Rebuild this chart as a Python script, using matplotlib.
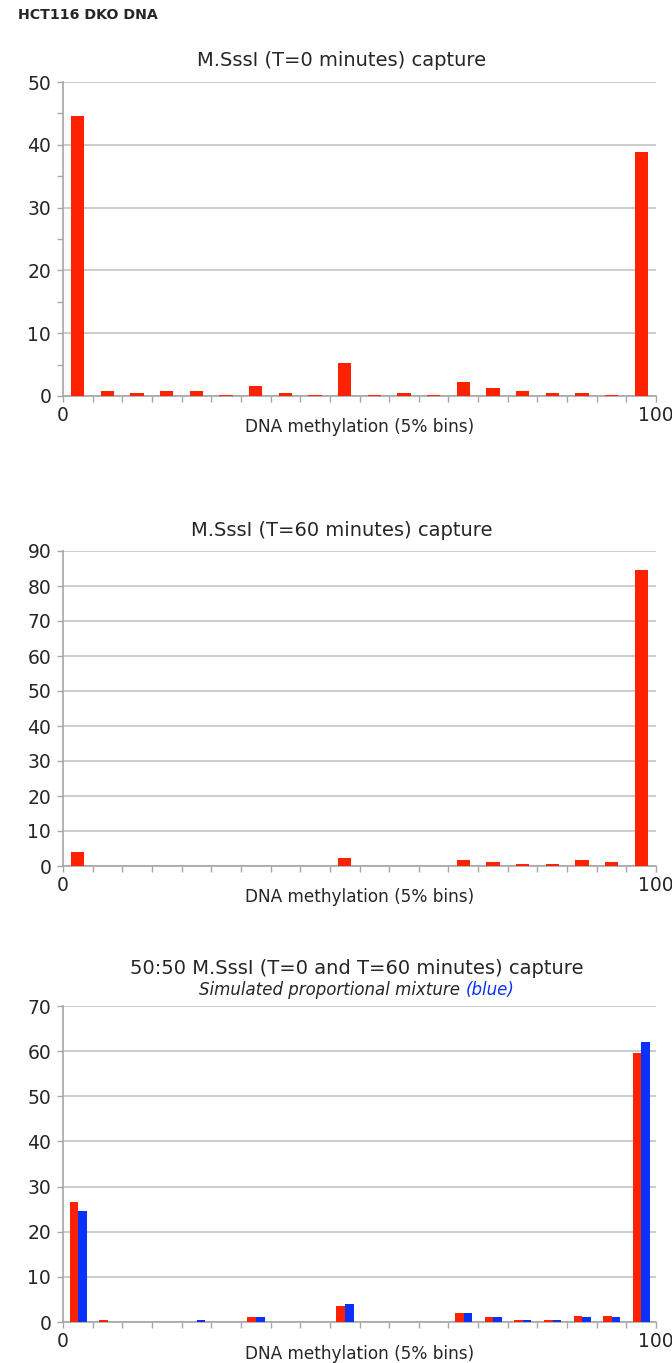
import matplotlib
matplotlib.use("Agg")
import matplotlib.pyplot as plt
import numpy as np

plt.rcParams['font.family'] = ['DejaVu Sans']

# ---- data (percent of reads per 5% methylation bin) ----
bins = list(range(20))
t0_values = [44.6, 0.73, 0.47, 0.73, 0.73, 0.1, 1.6, 0.47, 0.1, 5.2,
             0.1, 0.47, 0.1, 2.25, 1.3, 0.73, 0.47, 0.47, 0.1, 38.8]
t60_values = [3.9, 0.1, 0.1, 0.1, 0.1, 0.1, 0.1, 0.1, 0.1, 2.3,
              0.1, 0.1, 0.1, 1.8, 1.25, 0.67, 0.67, 1.8, 1.25, 84.6]
mix_observed = [26.6, 0.5, 0.05, 0.05, 0.05, 0.05, 1.0, 0.05, 0.05, 3.5,
                0.05, 0.05, 0.05, 1.9, 1.0, 0.55, 0.55, 1.4, 1.4, 59.6]
mix_simulated = [24.6, 0.05, 0.05, 0.05, 0.5, 0.05, 1.0, 0.05, 0.05, 4.0,
                 0.05, 0.05, 0.05, 1.9, 1.0, 0.55, 0.55, 1.0, 1.0, 62.1]
x_tick_labels = ["0", "100"]

suptitle = "HCT116 DKO DNA"
titles = ["M.SssI (T=0 minutes) capture", "M.SssI (T=60 minutes) capture"]
title3_line1 = "50:50 M.SssI (T=0 and T=60 minutes) capture"
title3_line2a = "Simulated proportional mixture "
title3_line2b = "(blue)"
xlabel = "DNA methylation (5% bins)"

RED = "#FF2200"
BLUE = "#0A32FF"
GRID = "#C4C4C4"
AXC = "#A6A6A6"
TXT = "#262626"

W, H = 672, 1363
fig = plt.figure(figsize=(W / 100, H / 100), dpi=100)


def px_axes(left, top, right, bottom):
    return fig.add_axes([left / W, 1 - bottom / H, (right - left) / W, (bottom - top) / H])


def style(ax, ymax, ystep, minor=None):
    ax.set_xlim(0, 20)
    ax.set_ylim(0, ymax)
    ax.set_yticks(np.arange(0, ymax + 0.1, ystep))
    if minor:
        ax.set_yticks(np.arange(minor, ymax, ystep), minor=True)
        ax.tick_params(axis='y', which='minor', length=4.5, width=1, color=AXC, direction='out')
    ax.set_xticks(np.arange(0, 21, 1))
    ax.set_xticklabels([""] * 21)
    ax.grid(axis='y', which='major', color=GRID, linewidth=1.2)
    ax.set_axisbelow(True)
    for s in ['top', 'right']:
        ax.spines[s].set_visible(False)
    for s in ['left', 'bottom']:
        ax.spines[s].set_color(AXC)
        ax.spines[s].set_linewidth(1.2)
    ax.tick_params(axis='both', which='major', length=4.5, width=1, color=AXC,
                   direction='out', labelsize=13.5, pad=4, labelcolor=TXT)
    # x end labels
    ax.text(0, -0.062, x_tick_labels[0], transform=ax.get_xaxis_transform(),
            ha='center', va='center', fontsize=13.5, color=TXT)
    ax.text(20, -0.062, x_tick_labels[1], transform=ax.get_xaxis_transform(),
            ha='center', va='center', fontsize=13.5, color=TXT)
    ax.text(0.5, -0.1, xlabel, transform=ax.transAxes, ha='center', va='center',
            fontsize=12.2, color=TXT)


# Panel 1
ax1 = px_axes(63, 82, 656, 396)
ax1.bar(np.array(bins) + 0.5, t0_values, width=0.45, color=RED, zorder=3)
style(ax1, 50, 10, minor=5)

# Panel 2
ax2 = px_axes(63, 551, 656, 866)
ax2.bar(np.array(bins) + 0.5, t60_values, width=0.45, color=RED, zorder=3)
style(ax2, 90, 10)

# Panel 3
ax3 = px_axes(63, 1006, 656, 1322)
ax3.bar(np.array(bins) + 0.365, mix_observed, width=0.29, color=RED, zorder=3)
ax3.bar(np.array(bins) + 0.655, mix_simulated, width=0.29, color=BLUE, zorder=3)
style(ax3, 70, 10)

# Texts
fig.text(18 / W, 1 - 15 / H, suptitle, ha='left', va='center', fontsize=10.2,
         fontweight='bold', color=TXT)
ttl_kw = dict(ha='center', va='center', fontsize=14, color=TXT)
fig.text(342 / W, 1 - 60 / H, titles[0], **ttl_kw)
fig.text(342 / W, 1 - 530 / H, titles[1], **ttl_kw)
fig.text(357 / W, 1 - 969 / H, title3_line1, **ttl_kw)

fig.canvas.draw()
r = fig.canvas.get_renderer()
ta = fig.text(0, 1 - 990 / H, title3_line2a, ha='left', va='center', fontsize=12,
              style='italic', color=TXT)
tb = fig.text(0, 1 - 990 / H, title3_line2b, ha='left', va='center', fontsize=12,
              style='italic', color=BLUE)
wa = ta.get_window_extent(r).width
wb = tb.get_window_extent(r).width
start = 357 - (wa + wb) / 2
ta.set_x(start / W)
tb.set_x((start + wa) / W)

fig.savefig("out.png", dpi=100)
